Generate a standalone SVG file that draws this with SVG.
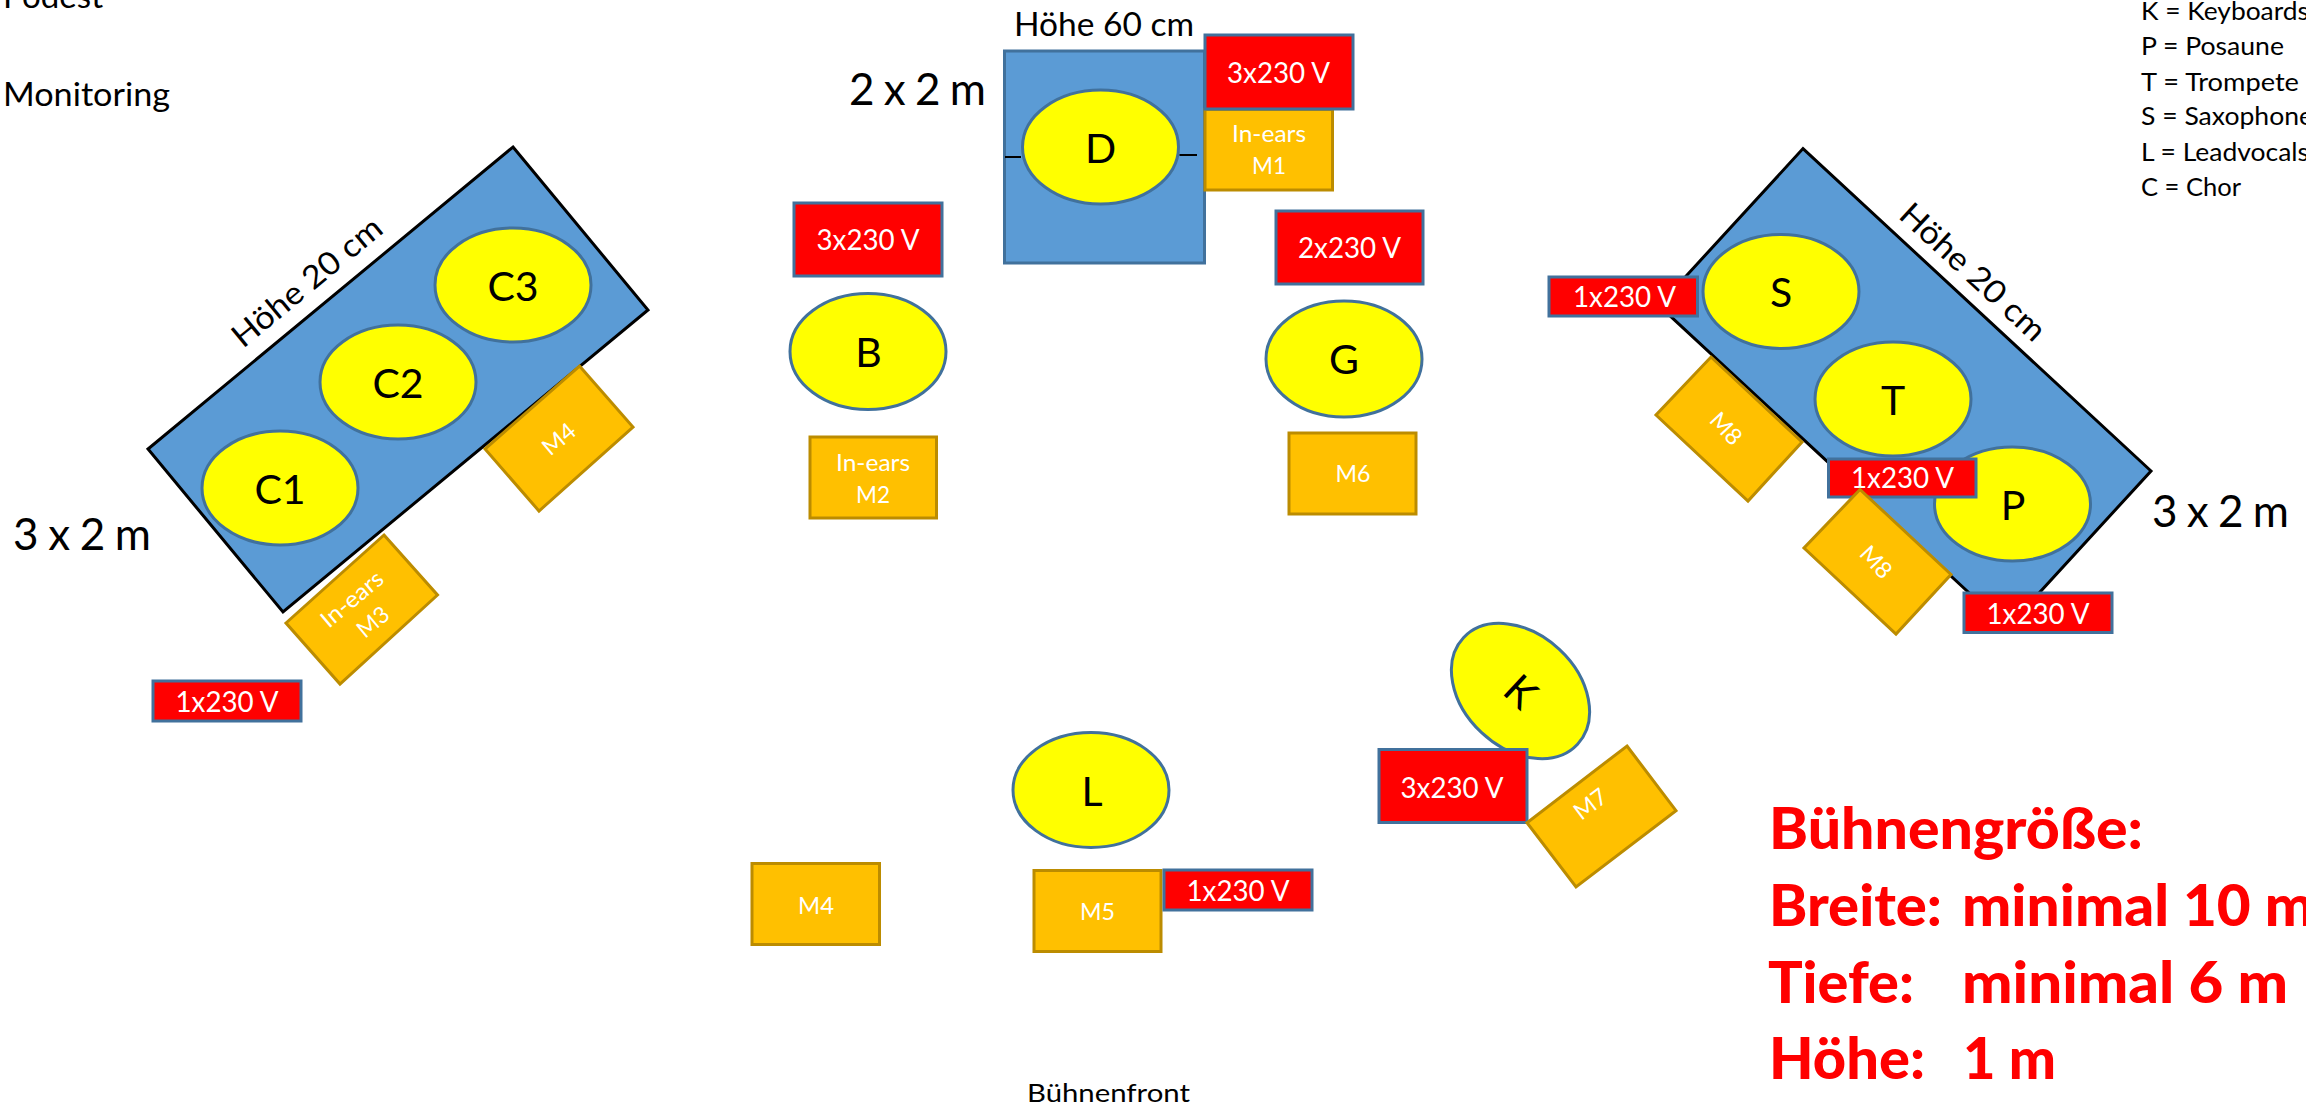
<svg xmlns="http://www.w3.org/2000/svg" width="2306" height="1110" viewBox="0 0 2306 1110">
<style>
text{font-family:"Lato","Open Sans","Liberation Sans",sans-serif;fill:#000}
.mid{text-anchor:middle}
.pod{fill:#5B9BD5;stroke:#000;stroke-width:3;stroke-linejoin:miter}
.podb{fill:#5B9BD5;stroke:#41719C;stroke-width:3}
.sing{fill:#FFFF00;stroke:#41719C;stroke-width:3}
.mon{fill:#FFC000;stroke:#BC8C00;stroke-width:3}
.pow{fill:#FF0000;stroke:#41719C;stroke-width:3}
.letter{font-size:41px;text-anchor:middle}
.w32{font-size:29px;fill:#fff;text-anchor:middle}
.w25{font-size:23px;fill:#fff;text-anchor:middle}
.h{font-size:32px}
.big{font-size:44px}
.info{font-size:32.5px}
.leg{font-size:25px}
.red{font-size:57px;font-weight:900;fill:#FF0000}
.conn{stroke:#000;stroke-width:2;fill:none}
</style>
<rect width="2306" height="1110" fill="#fff"/>
<g id="label-podest"><text class="info" x="3" y="8" textLength="100" lengthAdjust="spacingAndGlyphs">Podest</text></g>
<g id="label-monitoring"><text class="info" x="3" y="106" textLength="167" lengthAdjust="spacingAndGlyphs">Monitoring</text></g>

<g id="podest-left">
<polygon class="pod" points="513,147 648,310 283,612 148,449"/>
<text class="h mid" transform="translate(307,282) rotate(-39.6)" y="11" textLength="184" lengthAdjust="spacingAndGlyphs">Höhe 20 cm</text>
<text class="big" x="13" y="550" textLength="138" lengthAdjust="spacing">3 x 2 m</text>
</g>
<g id="C3"><ellipse class="sing" cx="513" cy="285" rx="78" ry="57"/><text class="letter" x="513" y="301">C3</text></g>
<g id="C2"><ellipse class="sing" cx="398" cy="382" rx="78" ry="57"/><text class="letter" x="398" y="398">C2</text></g>
<g id="C1"><ellipse class="sing" cx="280" cy="488" rx="78" ry="57"/><text class="letter" x="280" y="504">C1</text></g>
<g id="M4-left"><polygon class="mon" points="579.5,366 633,427 539,511 485,449"/><text class="w25" transform="translate(559,439) rotate(-40)" y="8" textLength="36" lengthAdjust="spacingAndGlyphs">M4</text></g>
<g id="M3"><polygon class="mon" points="384,535 437.5,595 340,684 286,623"/>
<text class="w25" transform="translate(352,599) rotate(-40)" y="8" textLength="74" lengthAdjust="spacingAndGlyphs">In-ears</text>
<text class="w25" transform="translate(373,622) rotate(-40)" y="8" textLength="34" lengthAdjust="spacingAndGlyphs">M3</text></g>
<g id="power-C"><rect class="pow" x="153" y="681" width="148" height="40"/><text class="w32" x="227" y="712" textLength="103" lengthAdjust="spacingAndGlyphs">1x230 V</text></g>

<g id="podest-drums">
<rect class="podb" x="1004.5" y="51" width="200" height="212"/>
<text class="h" x="1014" y="35.5" textLength="180" lengthAdjust="spacingAndGlyphs">Höhe 60 cm</text>
<text class="big" x="849" y="105" textLength="137" lengthAdjust="spacing">2 x 2 m</text>
</g>
<g id="D"><ellipse class="sing" cx="1100.5" cy="147" rx="78" ry="57"/><text class="letter" x="1100.5" y="162.5">D</text></g>
<g id="M1"><rect class="mon" x="1205" y="109.5" width="127.5" height="80.5"/><text class="w25" x="1269" y="142" textLength="74" lengthAdjust="spacingAndGlyphs">In-ears</text><text class="w25" x="1269" y="174" textLength="34" lengthAdjust="spacingAndGlyphs">M1</text></g>
<g id="power-D"><rect class="pow" x="1205" y="35" width="148" height="74"/><text class="w32" x="1278.5" y="82.5" textLength="103" lengthAdjust="spacingAndGlyphs">3x230 V</text></g>
<g id="power-B"><rect class="pow" x="794" y="203" width="148" height="73"/><text class="w32" x="868" y="249.5" textLength="103" lengthAdjust="spacingAndGlyphs">3x230 V</text></g>
<g id="B"><ellipse class="sing" cx="868" cy="351.5" rx="78" ry="58"/><text class="letter" x="868.5" y="367">B</text></g>
<g id="M2"><rect class="mon" x="810" y="437" width="126.5" height="81"/><text class="w25" x="873" y="471" textLength="74" lengthAdjust="spacingAndGlyphs">In-ears</text><text class="w25" x="873" y="503" textLength="34" lengthAdjust="spacingAndGlyphs">M2</text></g>
<g id="power-G"><rect class="pow" x="1276" y="211" width="147" height="73"/><text class="w32" x="1349.5" y="258" textLength="103" lengthAdjust="spacingAndGlyphs">2x230 V</text></g>
<g id="G"><ellipse class="sing" cx="1344" cy="359" rx="78" ry="58"/><text class="letter" x="1344" y="374">G</text></g>
<g id="M6"><rect class="mon" x="1289" y="433" width="127" height="81"/><text class="w25" x="1353" y="482" textLength="35" lengthAdjust="spacingAndGlyphs">M6</text></g>

<g id="podest-right">
<polygon class="pod" points="1803,148.6 2151,471 2007,628 1659,305.6"/>
<text class="h mid" transform="translate(1973,272) rotate(42.8)" y="11" textLength="186" lengthAdjust="spacingAndGlyphs">Höhe 20 cm</text>
<text class="big" x="2152" y="527" textLength="137" lengthAdjust="spacing">3 x 2 m</text>
</g>
<g id="S"><ellipse class="sing" cx="1781" cy="291.5" rx="78" ry="57"/><text class="letter" x="1781" y="307">S</text></g>
<g id="T"><ellipse class="sing" cx="1893" cy="399" rx="78" ry="57"/><text class="letter" x="1893" y="414.5">T</text></g>
<g id="P"><ellipse class="sing" cx="2012.5" cy="504" rx="78" ry="57"/><text class="letter" x="2013" y="520">P</text></g>
<g id="power-S"><rect class="pow" x="1549" y="277" width="148.5" height="39"/><text class="w32" x="1624.5" y="307" textLength="103" lengthAdjust="spacingAndGlyphs">1x230 V</text></g>
<g id="M8-a"><polygon class="mon" points="1711,357 1802,442 1748,501 1656,415"/><text class="w25" transform="translate(1726,428.5) rotate(47)" y="8" textLength="35" lengthAdjust="spacingAndGlyphs">M8</text></g>
<g id="power-T"><rect class="pow" x="1828.5" y="459" width="147.5" height="38"/><text class="w32" x="1902.5" y="488" textLength="103" lengthAdjust="spacingAndGlyphs">1x230 V</text></g>
<g id="M8-b"><polygon class="mon" points="1860,489.5 1951,574.5 1896,634 1804,548"/><text class="w25" transform="translate(1876,562) rotate(47)" y="8" textLength="35" lengthAdjust="spacingAndGlyphs">M8</text></g>
<g id="power-P"><rect class="pow" x="1964" y="593" width="148" height="39.5"/><text class="w32" x="2038" y="623.5" textLength="103" lengthAdjust="spacingAndGlyphs">1x230 V</text></g>

<g id="K"><ellipse class="sing" cx="1520.5" cy="691" rx="78" ry="57" transform="rotate(43 1520.5 691)"/><text class="letter" transform="translate(1520.5,692) rotate(43)" y="14">K</text></g>
<g id="power-K"><rect class="pow" x="1379" y="749.5" width="148" height="73"/><text class="w32" x="1452" y="797.5" textLength="103" lengthAdjust="spacingAndGlyphs">3x230 V</text></g>
<g id="M7"><polygon class="mon" points="1627,746 1676,810.7 1576,887 1527,822.7"/><text class="w25" transform="translate(1590.5,804) rotate(-37)" y="8" textLength="35" lengthAdjust="spacingAndGlyphs">M7</text></g>
<g id="L"><ellipse class="sing" cx="1091" cy="790" rx="78" ry="57.5"/><text class="letter" x="1092" y="805.5">L</text></g>
<g id="M4-front"><rect class="mon" x="752" y="863.5" width="127.5" height="81"/><text class="w25" x="816" y="914" textLength="36" lengthAdjust="spacingAndGlyphs">M4</text></g>
<g id="M5"><rect class="mon" x="1034" y="870.5" width="127" height="81"/><text class="w25" x="1097.5" y="920" textLength="35" lengthAdjust="spacingAndGlyphs">M5</text></g>
<g id="power-L"><rect class="pow" x="1164" y="870" width="148" height="40"/><text class="w32" x="1238" y="900.5" textLength="103" lengthAdjust="spacingAndGlyphs">1x230 V</text></g>
<g id="label-front"><text class="leg" x="1027" y="1102" textLength="163" lengthAdjust="spacingAndGlyphs">Bühnenfront</text></g>

<g id="legend">
<text class="leg" x="2141" y="20" textLength="168" lengthAdjust="spacingAndGlyphs">K = Keyboards</text>
<text class="leg" x="2141" y="55" textLength="143" lengthAdjust="spacingAndGlyphs">P = Posaune</text>
<text class="leg" x="2141" y="90.5" textLength="158" lengthAdjust="spacingAndGlyphs">T = Trompete</text>
<text class="leg" x="2141" y="125" textLength="172" lengthAdjust="spacingAndGlyphs">S = Saxophone</text>
<text class="leg" x="2141" y="161" textLength="168" lengthAdjust="spacingAndGlyphs">L = Leadvocals</text>
<text class="leg" x="2141" y="196" textLength="100" lengthAdjust="spacingAndGlyphs">C = Chor</text>
</g>
<g id="stage-size">
<text class="red" x="1769" y="849" textLength="374" lengthAdjust="spacingAndGlyphs">Bühnengröße:</text>
<text class="red" y="926"><tspan x="1769" textLength="173" lengthAdjust="spacingAndGlyphs">Breite:</tspan> <tspan x="1962" textLength="352" lengthAdjust="spacingAndGlyphs">minimal 10 m</tspan></text>
<text class="red" y="1003"><tspan x="1768" textLength="146" lengthAdjust="spacingAndGlyphs">Tiefe:</tspan> <tspan x="1962" textLength="326" lengthAdjust="spacingAndGlyphs">minimal 6 m</tspan></text>
<text class="red" y="1079"><tspan x="1769" textLength="156" lengthAdjust="spacingAndGlyphs">Höhe:</tspan> <tspan x="1963" textLength="93" lengthAdjust="spacingAndGlyphs">1 m</tspan></text>
</g>
<g id="connectors">
<line class="conn" x1="1005" y1="157" x2="1021" y2="157"/>
<line class="conn" x1="1179.5" y1="155" x2="1197" y2="155"/>
</g>
</svg>
